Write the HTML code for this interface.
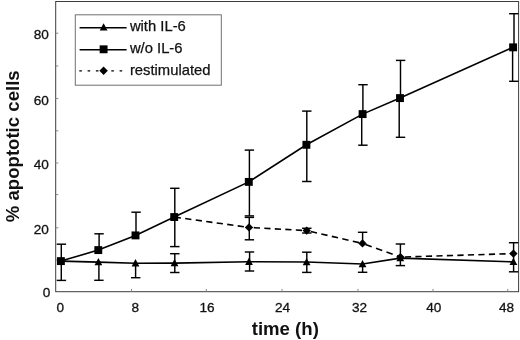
<!DOCTYPE html>
<html><head><meta charset="utf-8"><title>apoptotic cells chart</title>
<style>html,body{margin:0;padding:0;background:#fff;}body{width:520px;height:340px;overflow:hidden;}svg{display:block;}text{font-family:"Liberation Sans",Arial,Helvetica,sans-serif;fill:#111;}</style></head><body>
<svg width="520" height="340" viewBox="0 0 520 340">
<rect width="520" height="340" fill="#fff"/>
<rect x="55.7" y="1.5" width="462.90000000000003" height="290.2" fill="none" stroke="#3c3c3c" stroke-width="1"/>
<g stroke="#888" stroke-width="1">
<line x1="55.7" y1="33.2" x2="58.300000000000004" y2="33.2"/>
<line x1="55.7" y1="66.0" x2="58.300000000000004" y2="66.0"/>
<line x1="55.7" y1="98.5" x2="58.300000000000004" y2="98.5"/>
<line x1="55.7" y1="130.8" x2="58.300000000000004" y2="130.8"/>
<line x1="55.7" y1="163.0" x2="58.300000000000004" y2="163.0"/>
<line x1="55.7" y1="194.6" x2="58.300000000000004" y2="194.6"/>
<line x1="55.7" y1="227.8" x2="58.300000000000004" y2="227.8"/>
<line x1="55.7" y1="260.0" x2="58.300000000000004" y2="260.0"/>
<line x1="131.5" y1="291.7" x2="131.5" y2="288.9"/>
<line x1="206.3" y1="291.7" x2="206.3" y2="288.9"/>
<line x1="282.0" y1="291.7" x2="282.0" y2="288.9"/>
<line x1="358.0" y1="291.7" x2="358.0" y2="288.9"/>
<line x1="433.0" y1="291.7" x2="433.0" y2="288.9"/>
<line x1="507.8" y1="291.7" x2="507.8" y2="288.9"/>
</g>
<g font-size="13.6" text-anchor="end" stroke="#111" stroke-width="0.3">
<text x="48.9" y="39">80</text>
<text x="48.9" y="105">60</text>
<text x="48.9" y="169">40</text>
<text x="48.9" y="234">20</text>
<text x="50.2" y="297.4">0</text>
</g>
<g font-size="13.6" text-anchor="middle" stroke="#111" stroke-width="0.3">
<text x="60.2" y="312">0</text>
<text x="135.2" y="312">8</text>
<text x="207.0" y="312">16</text>
<text x="282.5" y="312">24</text>
<text x="359.5" y="312">32</text>
<text x="433.8" y="312">40</text>
<text x="506.6" y="312">48</text>
</g>
<text x="285.3" y="334.8" font-size="18.6" font-weight="bold" text-anchor="middle">time (h)</text>
<text transform="translate(18.5,146.3) rotate(-90)" font-size="18.6" font-weight="bold" text-anchor="middle">% apoptotic cells</text>
<g stroke="#000" stroke-width="1.45" fill="none">
<line x1="61.3" y1="244.2" x2="61.3" y2="280.4"/>
<line x1="56.70" y1="244.2" x2="66.10" y2="244.2"/>
<line x1="56.70" y1="280.4" x2="66.10" y2="280.4"/>
<line x1="99.1" y1="233.8" x2="99.1" y2="250"/>
<line x1="94.35" y1="233.8" x2="103.75" y2="233.8"/>
<line x1="98.9" y1="262" x2="98.9" y2="280.3"/>
<line x1="94.20" y1="280.3" x2="103.60" y2="280.3"/>
<line x1="136.0" y1="212.2" x2="136.0" y2="235"/>
<line x1="131.40" y1="212.2" x2="140.80" y2="212.2"/>
<line x1="135.6" y1="263" x2="135.6" y2="277.7"/>
<line x1="131.00" y1="277.7" x2="140.40" y2="277.7"/>
<line x1="174.8" y1="188.3" x2="174.8" y2="246.6"/>
<line x1="170.10" y1="188.3" x2="179.50" y2="188.3"/>
<line x1="170.10" y1="246.6" x2="179.50" y2="246.6"/>
<line x1="174.8" y1="253.7" x2="174.8" y2="272.5"/>
<line x1="170.10" y1="253.7" x2="179.50" y2="253.7"/>
<line x1="170.10" y1="272.5" x2="179.50" y2="272.5"/>
<line x1="249.4" y1="150.1" x2="249.4" y2="215.9"/>
<line x1="244.70" y1="150.1" x2="254.10" y2="150.1"/>
<line x1="244.70" y1="215.9" x2="254.10" y2="215.9"/>
<line x1="249.3" y1="217.4" x2="249.3" y2="239.8"/>
<line x1="244.70" y1="217.4" x2="254.10" y2="217.4"/>
<line x1="244.70" y1="239.8" x2="254.10" y2="239.8"/>
<line x1="249.6" y1="252.0" x2="249.6" y2="271.0"/>
<line x1="244.80" y1="252.0" x2="254.20" y2="252.0"/>
<line x1="244.80" y1="271.0" x2="254.20" y2="271.0"/>
<line x1="306.8" y1="111.1" x2="306.8" y2="181.5"/>
<line x1="302.10" y1="111.1" x2="311.50" y2="111.1"/>
<line x1="302.10" y1="181.5" x2="311.50" y2="181.5"/>
<line x1="306.7" y1="228.3" x2="306.7" y2="233.0"/>
<line x1="302.10" y1="228.3" x2="311.50" y2="228.3"/>
<line x1="302.10" y1="233.0" x2="311.50" y2="233.0"/>
<line x1="306.8" y1="252.2" x2="306.8" y2="272.4"/>
<line x1="302.10" y1="252.2" x2="311.50" y2="252.2"/>
<line x1="302.10" y1="272.4" x2="311.50" y2="272.4"/>
<line x1="362.9" y1="84.7" x2="362.9" y2="114"/>
<line x1="358.30" y1="84.7" x2="367.70" y2="84.7"/>
<line x1="361.7" y1="114" x2="361.7" y2="145.2"/>
<line x1="358.20" y1="145.2" x2="367.60" y2="145.2"/>
<line x1="362.6" y1="232.3" x2="362.6" y2="243.3"/>
<line x1="357.90" y1="232.3" x2="367.30" y2="232.3"/>
<line x1="362.6" y1="264" x2="362.6" y2="272.3"/>
<line x1="357.90" y1="272.3" x2="367.30" y2="272.3"/>
<line x1="400.5" y1="60.4" x2="400.5" y2="98"/>
<line x1="395.90" y1="60.4" x2="405.30" y2="60.4"/>
<line x1="399.2" y1="98" x2="399.2" y2="137.3"/>
<line x1="395.80" y1="137.3" x2="405.20" y2="137.3"/>
<line x1="400.4" y1="244.0" x2="400.4" y2="265.6"/>
<line x1="395.70" y1="244.0" x2="405.10" y2="244.0"/>
<line x1="395.70" y1="265.6" x2="405.10" y2="265.6"/>
<line x1="514.0" y1="13.7" x2="514.0" y2="47"/>
<line x1="509.10" y1="13.7" x2="518.50" y2="13.7"/>
<line x1="512.6" y1="47" x2="512.6" y2="81.3"/>
<line x1="509.10" y1="81.3" x2="518.50" y2="81.3"/>
<line x1="513.6" y1="242.7" x2="513.6" y2="271.8"/>
<line x1="508.90" y1="242.7" x2="518.30" y2="242.7"/>
<line x1="508.90" y1="271.8" x2="518.30" y2="271.8"/>
</g>
<polyline points="60.9,261.1 98.4,262.1 135.5,263.2 174.5,263.1 249.0,261.7 306.6,262.0 362.5,264.0 400.3,258.1 513.4,261.9" fill="none" stroke="#000" stroke-width="1.6"/>
<polyline points="60.9,261.1 98.3,250.1 135.5,235.4 174.2,217.05 248.8,181.9 306.4,144.8 362.6,114.1 400.0,98.1 513.1,47.35" fill="none" stroke="#000" stroke-width="1.6"/>
<line x1="174.2" y1="217.05" x2="249.0" y2="227.4" stroke="#000" stroke-width="1.6" stroke-dasharray="6.26 4.34" stroke-dashoffset="-0.50"/>
<line x1="249.0" y1="227.4" x2="306.7" y2="230.6" stroke="#000" stroke-width="1.6" stroke-dasharray="6.21 4.31" stroke-dashoffset="-4.81"/>
<line x1="306.7" y1="230.6" x2="362.5" y2="243.4" stroke="#000" stroke-width="1.6" stroke-dasharray="6.36 4.41" stroke-dashoffset="-4.21"/>
<line x1="362.5" y1="243.4" x2="400.4" y2="257.1" stroke="#000" stroke-width="1.6" stroke-dasharray="6.59 4.57" stroke-dashoffset="-3.19"/>
<line x1="400.4" y1="257.1" x2="513.4" y2="253.6" stroke="#000" stroke-width="1.6" stroke-dasharray="6.20 4.30" stroke-dashoffset="-4.50"/>
<g fill="#000">
<polygon points="98.4,258.00 102.30,265.30 94.50,265.30"/>
<polygon points="135.5,259.10 139.40,266.40 131.60,266.40"/>
<polygon points="174.5,259.00 178.40,266.30 170.60,266.30"/>
<polygon points="249.0,257.60 252.90,264.90 245.10,264.90"/>
<polygon points="306.6,257.90 310.50,265.20 302.70,265.20"/>
<polygon points="362.5,259.90 366.40,267.20 358.60,267.20"/>
<polygon points="400.3,254.00 404.20,261.30 396.40,261.30"/>
<polygon points="513.4,257.80 517.30,265.10 509.50,265.10"/>
<polygon points="249.0,223.20000000000002 253.2,227.4 249.0,231.6 244.8,227.4"/>
<polygon points="306.7,226.4 310.9,230.6 306.7,234.79999999999998 302.5,230.6"/>
<polygon points="362.5,239.20000000000002 366.7,243.4 362.5,247.6 358.3,243.4"/>
<polygon points="400.4,252.90000000000003 404.59999999999997,257.1 400.4,261.3 396.2,257.1"/>
<polygon points="513.4,249.4 517.6,253.6 513.4,257.8 509.2,253.6"/>
<rect x="56.949999999999996" y="257.15000000000003" width="7.9" height="7.9"/>
<rect x="94.35" y="246.15" width="7.9" height="7.9"/>
<rect x="131.55" y="231.45000000000002" width="7.9" height="7.9"/>
<rect x="170.25" y="213.10000000000002" width="7.9" height="7.9"/>
<rect x="244.85000000000002" y="177.95000000000002" width="7.9" height="7.9"/>
<rect x="302.45" y="140.85000000000002" width="7.9" height="7.9"/>
<rect x="358.65000000000003" y="110.14999999999999" width="7.9" height="7.9"/>
<rect x="396.05" y="94.14999999999999" width="7.9" height="7.9"/>
<rect x="509.15000000000003" y="43.4" width="7.9" height="7.9"/>
</g>
<rect x="75.3" y="14.8" width="146" height="70.4" fill="#fff" stroke="#707070" stroke-width="1"/>
<g stroke="#000" stroke-width="1.5">
<line x1="79.6" y1="27.7" x2="126.6" y2="27.7"/>
<line x1="79.6" y1="49.8" x2="126.6" y2="49.8"/>
<line x1="79.3" y1="70.8" x2="103" y2="70.8" stroke-dasharray="2.6 5.7" stroke-width="1.35"/>
<line x1="103" y1="70.8" x2="122.3" y2="70.8" stroke-dasharray="2.6 5.7" stroke-width="1.35"/>
</g>
<g fill="#000"><polygon points="103.6,23.20 107.50,30.50 99.70,30.50"/><rect x="99.64999999999999" y="45.349999999999994" width="7.9" height="7.9"/><polygon points="103.6,66.6 107.8,70.8 103.6,75.0 99.39999999999999,70.8"/></g>
<g font-size="14.8" stroke="#111" stroke-width="0.25">
<text x="129.9" y="31.4">with IL-6</text>
<text x="129.9" y="53.2">w/o IL-6</text>
<text x="129.9" y="75">restimulated</text>
</g>
</svg></body></html>
